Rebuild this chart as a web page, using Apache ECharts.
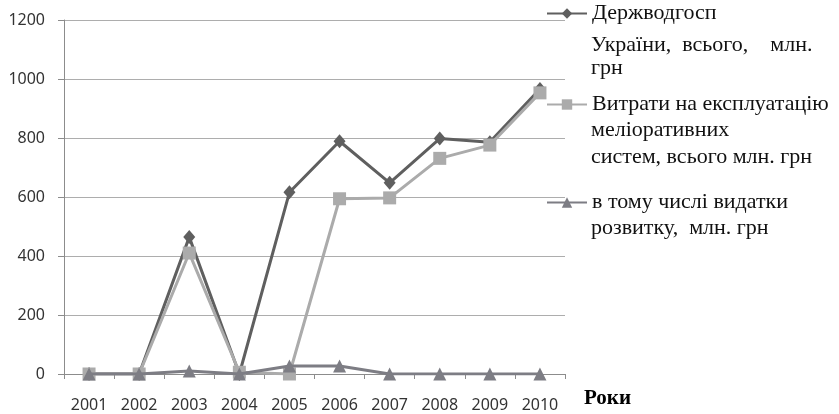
<!DOCTYPE html>
<html>
<head>
<meta charset="utf-8">
<script src="https://cdn.jsdelivr.net/npm/echarts@6/dist/echarts.min.js"></script>
<style>
html,body{margin:0;padding:0;background:#fff;}
#c{width:839px;height:414px;}
</style>
</head>
<body>
<div id="c"></div>
<script>
// ---- data ----
var years = ['2001','2002','2003','2004','2005','2006','2007','2008','2009','2010'];
var derzhvodgosp = [0, 0, 464, 0, 616, 789, 648, 798, 786, 966];
var vytraty = [0, 0, 410, 6, 0, 594, 597, 731, 776, 953];
var vydatkyRozvytku = [0, 0, 10, 0, 27, 27, 0, 0, 0, 0];
var yTicks = [0, 200, 400, 600, 800, 1000, 1200];

var name1 = ['Держводгосп', 'України,  всього,    млн.', 'грн'];
var name2 = ['Витрати на експлуатацію', 'меліоративних', 'систем, всього млн. грн'];
var name3 = ['в тому числі видатки', 'розвитку,  млн. грн'];
var axisXName = 'Роки';

var c1 = '#5f5f5f', c2 = '#ababab', c3 = '#7d7d84';
var serif = '"Liberation Serif", "DejaVu Serif", serif';
var sans = '"Noto Sans", "Open Sans", sans-serif';
var legFont = 22;

var chart = echarts.init(document.getElementById('c'), null, {renderer: 'canvas'});

function mkLegend(nameArr, top) {
  return {
    show: true,
    left: 546,
    top: top,
    padding: 0,
    itemWidth: 40,
    itemHeight: 13,
    data: [nameArr.join(' ')],
    formatter: function () { return nameArr[0]; },
    textStyle: {fontFamily: serif, fontSize: legFont, color: '#111'}
  };
}

function contText(lines, tops) {
  var out = [];
  for (var i = 1; i < lines.length; i++) {
    out.push({
      type: 'text', left: 591, top: tops[i - 1],
      style: {text: lines[i], font: legFont + 'px ' + serif, fill: '#111'}
    });
  }
  return out;
}

var option = {
  animation: false,
  backgroundColor: '#fff',
  grid: {left: 64, right: 274, top: 20, bottom: 40},
  legend: [mkLegend(name1, 2.5), mkLegend(name2, 93.5), mkLegend(name3, 191.5)],
  graphic: [].concat(
    contText(name1, [34, 57]),
    contText(name2, [119, 146]),
    contText(name3, [217])
  ),
  xAxis: {
    type: 'category',
    data: years,
    boundaryGap: true,
    name: axisXName,
    nameLocation: 'end',
    nameGap: 19,
    nameTextStyle: {fontFamily: serif, fontWeight: 'bold', fontSize: 21, color: '#000', verticalAlign: 'top', padding: [14,0,0,0]},
    axisLine: {lineStyle: {color: '#8c8c8c', width: 1}},
    axisTick: {show: true, interval: 0, length: 5, lineStyle: {color: '#8c8c8c'}},
    axisLabel: {fontFamily: sans, fontSize: 16, color: '#333', margin: 23, interval: 0}
  },
  yAxis: {
    type: 'value',
    min: 0, max: 1200, interval: 200,
    axisLine: {show: true, lineStyle: {color: '#8c8c8c', width: 1}},
    axisTick: {show: true, length: 6, lineStyle: {color: '#8c8c8c'}},
    axisLabel: {fontFamily: sans, fontSize: 16, color: '#333', margin: 19,
      formatter: function (v) { return yTicks.indexOf(v) >= 0 ? String(v) : ''; }},
    splitLine: {show: true, lineStyle: {color: '#adadad', width: 1}}
  },
  series: [
    {
      name: name1.join(' '), type: 'line', data: derzhvodgosp,
      symbol: 'diamond', symbolSize: [12, 14],
      lineStyle: {color: c1, width: 3}, itemStyle: {color: c1},
      z: 2
    },
    {
      name: name2.join(' '), type: 'line', data: vytraty,
      symbol: 'rect', symbolSize: 13,
      lineStyle: {color: c2, width: 3}, itemStyle: {color: c2},
      z: 3
    },
    {
      name: name3.join(' '), type: 'line', data: vydatkyRozvytku,
      symbol: 'triangle', symbolSize: 13,
      lineStyle: {color: c3, width: 3}, itemStyle: {color: c3},
      z: 4
    }
  ]
};
chart.setOption(option);
</script>
</body>
</html>
